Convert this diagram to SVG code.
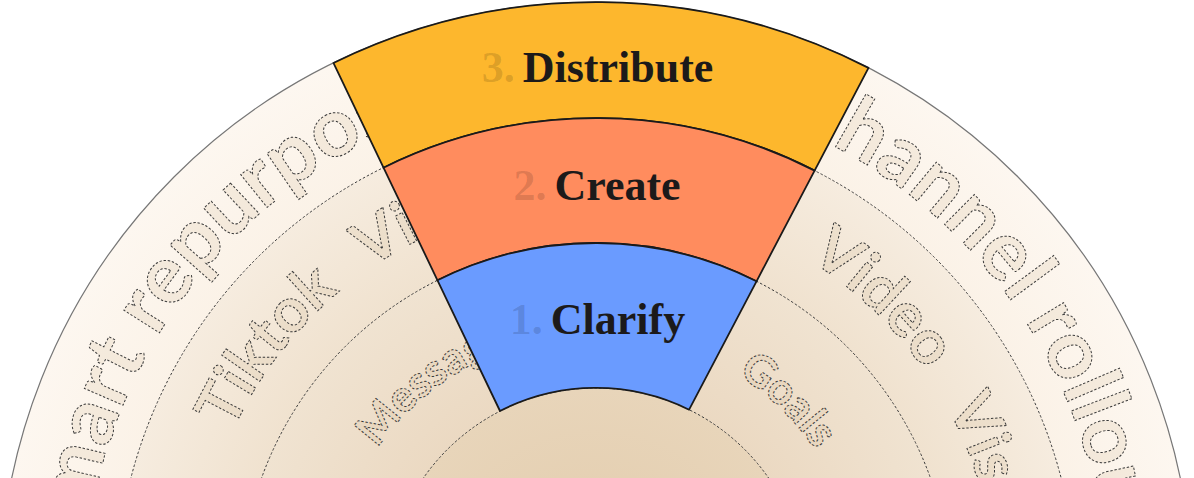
<svg xmlns="http://www.w3.org/2000/svg" width="1194" height="478" viewBox="0 0 1194 478">
  <defs>
    <radialGradient id="gOuter" gradientUnits="userSpaceOnUse" cx="596" cy="598.5" r="596.5">
      <stop offset="0.8" stop-color="#FBF2E7"/>
      <stop offset="1" stop-color="#FDF7F0"/>
    </radialGradient>
    <radialGradient id="gMid" gradientUnits="userSpaceOnUse" cx="596" cy="598.5" r="480.5">
      <stop offset="0.74" stop-color="#F0E2CF"/>
      <stop offset="1" stop-color="#F6ECDF"/>
    </radialGradient>
    <radialGradient id="gThird" gradientUnits="userSpaceOnUse" cx="596" cy="598.5" r="355.5">
      <stop offset="0.59" stop-color="#EBD9C2"/>
      <stop offset="1" stop-color="#F0E3D1"/>
    </radialGradient>
    <radialGradient id="gInner" gradientUnits="userSpaceOnUse" cx="596" cy="598.5" r="210.5">
      <stop offset="0" stop-color="#E2CBAB"/>
      <stop offset="1" stop-color="#E8D5BA"/>
    </radialGradient>
    <path id="pOuter" d="M 596,1109.5 A 511 511 0 1 1 596,87.5 A 511 511 0 1 1 596,1109.5"/>
    <path id="pMid" d="M 596,998.5 A 400 400 0 1 1 596,198.5 A 400 400 0 1 1 596,998.5"/>
    <path id="pInner" d="M 596,863.5 A 265 265 0 1 1 596,333.5 A 265 265 0 1 1 596,863.5"/>
  </defs>
  <style>
    .ring-div { fill: none; stroke: #3c3c3c; stroke-width: 1; stroke-dasharray: 2.5 2; }
    .ghost { font-family: Lato, "Open Sans", sans-serif; font-weight: 700; fill: #C9A77C; fill-opacity: 0.14; stroke: #3a3a3a; stroke-width: 1; stroke-dasharray: 2.4 1.8; }
    .outer-t { font-size: 82px; }
    .mid-t { font-size: 62px; }
    .inner-t { font-size: 44px; }
    .wedge { stroke: #1a1a1a; stroke-width: 1.8; stroke-linejoin: round; }
    .label { font-family: "Liberation Serif", "DejaVu Serif", serif; font-weight: bold; font-size: 44px; fill: #1c1a1a; text-anchor: middle; }
    .num { fill: #000; fill-opacity: 0.14; }
  </style>

  <g id="rings">
    <circle cx="596" cy="598.5" r="596.5" fill="url(#gOuter)" stroke="#777" stroke-width="1.2"/>
    <circle cx="596" cy="598.5" r="480.5" fill="url(#gMid)"/>
    <circle cx="596" cy="598.5" r="480.5" class="ring-div"/>
    <circle cx="596" cy="598.5" r="355.5" fill="url(#gThird)"/>
    <circle cx="596" cy="598.5" r="355.5" class="ring-div"/>
    <circle cx="596" cy="598.5" r="210.5" fill="url(#gInner)"/>
    <circle cx="596" cy="598.5" r="210.5" class="ring-div"/>
  </g>

  <g id="ring-texts" class="ghost">
    <text class="outer-t"><textPath href="#pOuter" startOffset="885.6">mart repurpos</textPath></text>
    <text class="outer-t"><textPath href="#pOuter" startOffset="1849.3">hannel rollou</textPath></text>
    <text class="mid-t"><textPath href="#pMid" startOffset="801.1">Tiktok</textPath></text>
    <text class="mid-t"><textPath href="#pMid" startOffset="1015.8">Vi</textPath></text>
    <text class="mid-t"><textPath href="#pMid" startOffset="1480">Video</textPath></text>
    <text class="mid-t"><textPath href="#pMid" startOffset="1683.9">Vis</textPath></text>
    <text class="inner-t"><textPath href="#pInner" startOffset="575.4">Messag</textPath></text>
    <text class="inner-t"><textPath href="#pInner" startOffset="981.2">Goals</textPath></text>
  </g>

  <g id="distribute">
    <path class="wedge" fill="#FDB72D" d="M 333.45,62.95 A 596.5 596.5 0 0 1 868.5,67.9 L 814.6,170.6 A 480.5 480.5 0 0 0 383.5,167.7 Z"/>
    <text class="label" x="597.5" y="82"><tspan class="num">3.</tspan><tspan dx="8">Distribute</tspan></text>
  </g>
  <g id="create">
    <path class="wedge" fill="#FF8C5E" d="M 383.5,167.7 A 480.5 480.5 0 0 1 814.6,170.6 L 756.5,281.3 A 355.5 355.5 0 0 0 437.5,280.3 Z"/>
    <text class="label" x="597" y="200"><tspan class="num">2.</tspan><tspan dx="8">Create</tspan></text>
  </g>
  <g id="clarify">
    <path class="wedge" fill="#6A9BFF" d="M 437.5,280.3 A 355.5 355.5 0 0 1 756.5,281.3 L 689.1,409.7 A 210.5 210.5 0 0 0 500,411 Z"/>
    <text class="label" x="597.5" y="334"><tspan class="num">1.</tspan><tspan dx="8">Clarify</tspan></text>
  </g>
</svg>
